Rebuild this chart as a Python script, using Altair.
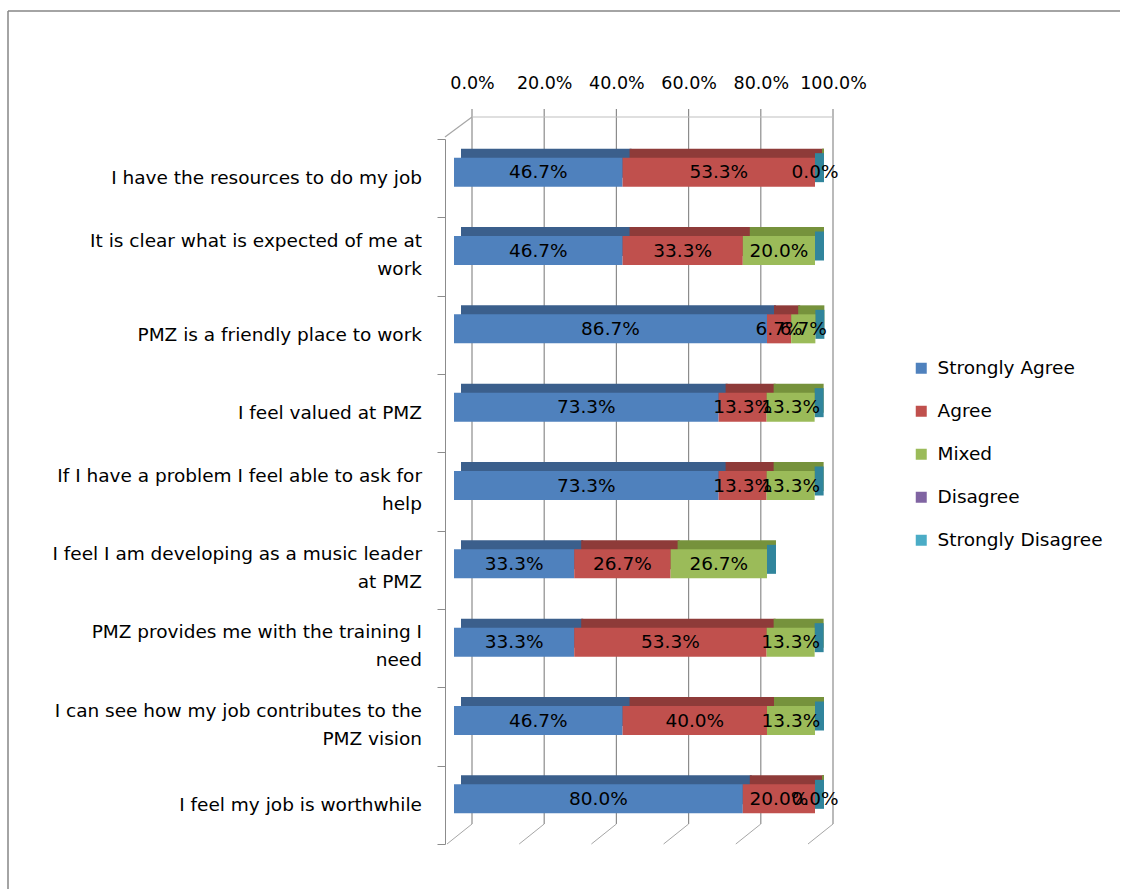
import altair as alt
import pandas as pd

# Survey statements (a "|" marks where the axis label wraps)
questions = [
    "I have the resources to do my job",
    "It is clear what is expected of me at|work",
    "PMZ is a friendly place to work",
    "I feel valued at PMZ",
    "If I have a problem I feel able to ask for|help",
    "I feel I am developing as a music leader|at PMZ",
    "PMZ provides me with the training I|need",
    "I can see how my job contributes to the|PMZ vision",
    "I feel my job is worthwhile",
]

series = ["Strongly Agree", "Agree", "Mixed", "Disagree", "Strongly Disagree"]

# Response shares in percent (None = no response recorded)
strongly_agree = [46.7, 46.7, 86.7, 73.3, 73.3, 33.3, 33.3, 46.7, 80.0]
agree = [53.3, 33.3, 6.7, 13.3, 13.3, 26.7, 53.3, 40.0, 20.0]
mixed = [0.0, 20.0, 6.7, 13.3, 13.3, 26.7, 13.3, 13.3, 0.0]
disagree = [None] * 9
strongly_disagree = [None] * 9

front_colors = ["#4F81BD", "#C0504D", "#9BBB59", "#8064A2", "#4BACC6"]
shade_colors = ["#3B5F8C", "#8E3B39", "#76923C", "#5F4B7A", "#2F8199"]
end_face_color = "#31859C"

axis_ticks = [0.0, 0.2, 0.4, 0.6, 0.8, 1.0]

# Long table with stacked segment extents
rows = []
ends = []
columns = [strongly_agree, agree, mixed, disagree, strongly_disagree]
for qi, q in enumerate(questions):
    start = 0.0
    for si, s in enumerate(series):
        v = columns[si][qi]
        if v is None:
            continue
        frac = v / 100.0
        rows.append({
            "question": q,
            "series": s,
            "order": si,
            "x0": start,
            "x1": start + frac,
            "mid": start + frac / 2,
            "label": f"{v:.1f}%",
            "shade": shade_colors[si],
        })
        start += frac
    ends.append({"question": q, "end": start})
df = pd.DataFrame(rows)
ends_df = pd.DataFrame(ends)
ticks_df = pd.DataFrame({"t": axis_ticks})
frame_df = pd.DataFrame({"k": [0]})

# Category label lines: single-line labels and the two lines of wrapped ones
single_lines, first_lines, second_lines = [], [], []
for q in questions:
    parts = q.split("|")
    if len(parts) == 1:
        single_lines.append({"question": q, "line": parts[0]})
    else:
        first_lines.append({"question": q, "line": parts[0]})
        second_lines.append({"question": q, "line": parts[1]})

FONT = "DejaVu Sans"
FS = 18.5
FS_AXIS = 17.5
GRID = "#8C8C8C"

x_scale = alt.Scale(domain=[0, 1], nice=False, zero=True)
y_enc = alt.Y(
    "question:N",
    sort=questions,
    scale=alt.Scale(domain=questions, paddingInner=0, paddingOuter=0),
    axis=alt.Axis(
        title=None,
        orient="left",
        offset=9,
        tickBand="extent",
        tickOffset=6,
        tickSize=8,
        tickColor=GRID,
        domainColor=GRID,
        labels=False,
        grid=False,
    ),
)

# Outer chart frame (top and left edges)
frame_top = alt.Chart(frame_df).mark_rule(color="#868686", strokeWidth=1.5).encode(
    x=alt.value(-446), x2=alt.value(666), y=alt.value(-128), y2=alt.value(-128)
)
frame_left = alt.Chart(frame_df).mark_rule(color="#868686", strokeWidth=1.5).encode(
    x=alt.value(-446), x2=alt.value(-446), y=alt.value(-128), y2=alt.value(750)
)

# Back-wall gridlines, shifted for depth
grid = alt.Chart(ticks_df).mark_rule(color=GRID, strokeWidth=1.2, xOffset=18).encode(
    x=alt.X("t:Q", scale=x_scale,
            axis=alt.Axis(orient="top", format=".1%", title=None, values=axis_ticks,
                          ticks=False, tickSize=0, domain=False, grid=False,
                          tickOffset=18, labelPadding=47, labelFont=FONT,
                          labelFontSize=FS_AXIS, labelColor="#000000", labelFlush=False)),
    y=alt.value(-30),
    y2=alt.value(685),
)

# Floor lines connecting back wall to the front edge
floor = alt.Chart(ticks_df).mark_rule(color="#A6A6A6", strokeWidth=1, xOffset=18, x2Offset=-7).encode(
    x=alt.X("t:Q", scale=x_scale),
    x2="t:Q",
    y=alt.value(685),
    y2=alt.value(705),
)

# Top edge of back wall and left-wall corner
back_top = alt.Chart(frame_df).mark_rule(color="#BFBFBF", strokeWidth=1).encode(
    x=alt.value(18), x2=alt.value(379), y=alt.value(-22), y2=alt.value(-22)
)
wall_corner = alt.Chart(frame_df).mark_rule(color="#A6A6A6", strokeWidth=1.2).encode(
    x=alt.value(-9), x2=alt.value(18), y=alt.value(-2), y2=alt.value(-22)
)

# Shaded top faces of the bars
shade = alt.Chart(df).mark_bar(size=29, xOffset=7, x2Offset=9, yOffset=-15).encode(
    x=alt.X("x0:Q", scale=x_scale),
    x2="x1:Q",
    y=y_enc,
    fill=alt.Fill("shade:N", scale=None),
)

# Right-hand end face of each bar
end_face = alt.Chart(ends_df).mark_bar(
    size=29, xOffset=0, x2Offset=9, yOffset=-10.5, color=end_face_color
).encode(
    x=alt.X("end:Q", scale=x_scale),
    x2="end:Q",
    y=y_enc,
)

# Front faces of the stacked bars
bars = alt.Chart(df).mark_bar(size=29, yOffset=-6).encode(
    x=alt.X("x0:Q", scale=x_scale),
    x2="x1:Q",
    y=y_enc,
    color=alt.Color(
        "series:N",
        scale=alt.Scale(domain=series, range=front_colors),
        legend=alt.Legend(
            title=None, orient="none", legendX=458, legendY=220,
            symbolType="square", symbolSize=121, symbolStrokeWidth=0,
            labelFont=FONT, labelFontSize=FS, labelColor="#000000",
            labelLimit=300, rowPadding=24, labelOffset=7, padding=0,
        ),
    ),
    order="order:Q",
)

labels = alt.Chart(df).mark_text(
    font=FONT, fontSize=FS, color="#000000", yOffset=-6
).encode(
    x=alt.X("mid:Q", scale=x_scale),
    y=y_enc,
    text="label:N",
)


def category_text(rows_, dy):
    return alt.Chart(pd.DataFrame(rows_)).mark_text(
        font=FONT, fontSize=FS, color="#000000", align="right",
        baseline="middle", dy=dy,
    ).encode(
        x=alt.value(-32),
        y=y_enc,
        text="line:N",
    )


cat_single = category_text(single_lines, 0)
cat_first = category_text(first_lines, -16)
cat_second = category_text(second_lines, 12)

chart = alt.layer(
    frame_top, frame_left, grid, floor, back_top, wall_corner,
    shade, end_face, bars, labels, cat_single, cat_first, cat_second
).properties(
    width=361,
    height=705,
    background="#FFFFFF",
    padding={"left": 7, "top": 10, "right": 0, "bottom": 0},
).configure_view(stroke=None)

chart.save("out.html", embed_options={"renderer": "svg", "actions": False})
